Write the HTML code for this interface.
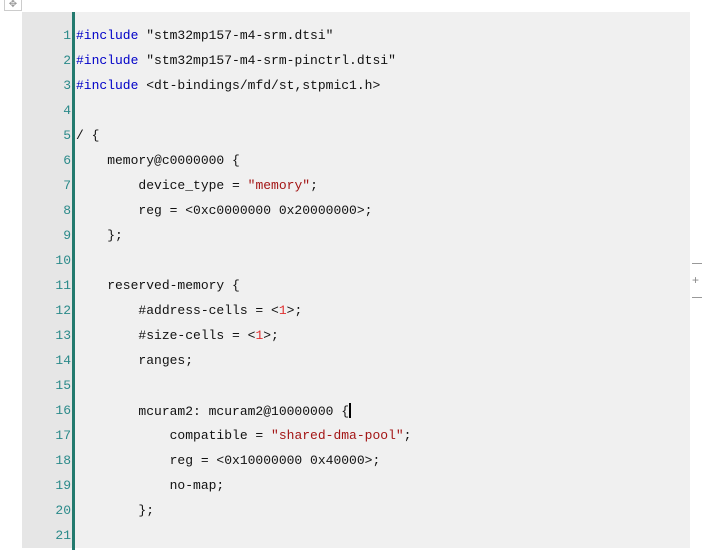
<!DOCTYPE html>
<html><head><meta charset="utf-8"><style>
html,body{margin:0;padding:0;background:#fff;width:702px;height:558px;overflow:hidden;position:relative}
.box{position:absolute;left:22px;top:12px;width:668px;height:536px;background:#f0f0f0}
.gut{position:absolute;left:22px;top:12px;width:50px;height:536px;background:#e6e6e6}
.bar{position:absolute;left:72px;top:12px;width:3px;height:538px;background:#237a6e}
.ln{position:absolute;left:22px;width:49px;text-align:right;color:#2b8a8a;font:13px "Liberation Mono",monospace}
.cd{position:absolute;left:76px;white-space:pre;color:#111;font:13px "Liberation Mono",monospace}
.k{color:#0000c8}.s{color:#a31515}.n{color:#e03030}
.mv{position:absolute;left:4px;top:0;width:16px;height:10px;border:1px solid #ccc;border-top:none;color:#999;font:10px sans-serif;text-align:center;line-height:9px}
.rp{position:absolute;left:692px;top:263px;width:10px;height:33px;border-top:1px solid #999;border-bottom:1px solid #999;color:#888;font:12px sans-serif;line-height:33px}
.cur{display:inline-block;width:2px;height:15px;background:#000;vertical-align:-3px}
</style></head><body>
<div class="mv">✥</div>
<div class="box"></div><div class="gut"></div><div class="bar"></div>
<div class="rp">+</div>
<div id="c"></div>
<script>
var L=[
'<span class="k">#include</span> "stm32mp157-m4-srm.dtsi"',
'<span class="k">#include</span> "stm32mp157-m4-srm-pinctrl.dtsi"',
'<span class="k">#include</span> &lt;dt-bindings/mfd/st,stpmic1.h&gt;',
'',
'/ {',
'    memory@c0000000 {',
'        device_type = <span class="s">"memory"</span>;',
'        reg = &lt;0xc0000000 0x20000000&gt;;',
'    };',
'',
'    reserved-memory {',
'        #address-cells = &lt;<span class="n">1</span>&gt;;',
'        #size-cells = &lt;<span class="n">1</span>&gt;;',
'        ranges;',
'',
'        mcuram2: mcuram2@10000000 {<span class="cur"></span>',
'            compatible = <span class="s">"shared-dma-pool"</span>;',
'            reg = &lt;0x10000000 0x40000&gt;;',
'            no-map;',
'        };',
''];
var h='';
for(var i=0;i<L.length;i++){var y=28+i*25;
h+='<div class="ln" style="top:'+y+'px">'+(i+1)+'</div><div class="cd" style="top:'+y+'px">'+L[i]+'</div>';}
document.getElementById('c').innerHTML=h;
</script>
</body></html>
